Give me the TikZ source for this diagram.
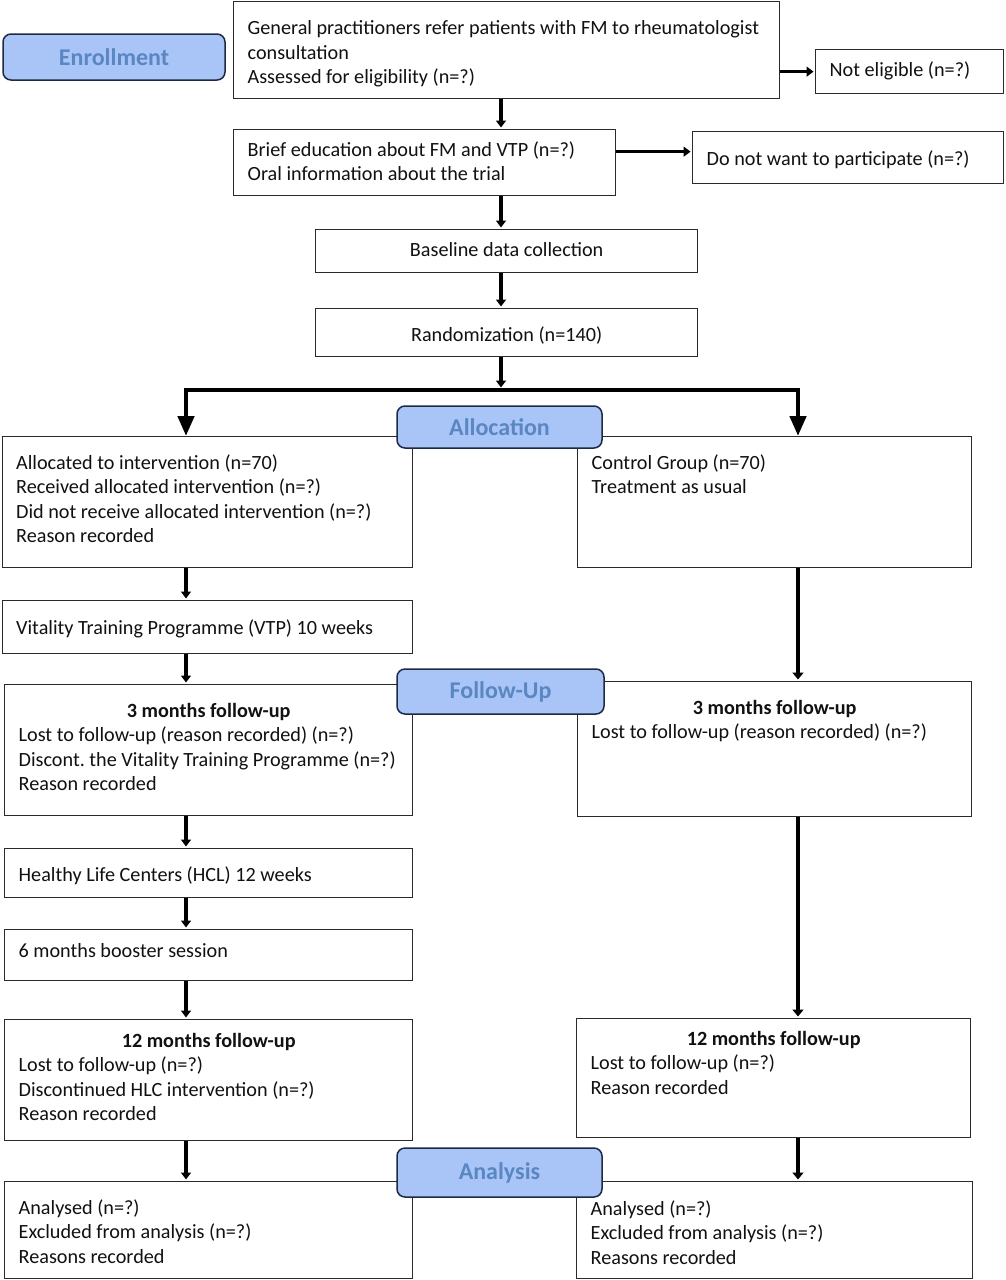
\documentclass[tikz,border=0pt]{standalone}
\usepackage{fontspec}
\setmainfont{Carlito}
\usetikzlibrary{arrows.meta,calc}
\frenchspacing
\definecolor{lblfill}{HTML}{A9C5F8}
\definecolor{lbltext}{HTML}{5A86C2}
\definecolor{lbldraw}{HTML}{1E2A44}
\definecolor{boxdraw}{HTML}{2B2B2B}
\definecolor{txt}{HTML}{111111}
% name, x1, y1, x2, y2, first-baseline offset, content
\newcommand\fbx[7]{%
\node[boxst] (#1) at (#2,#3) {\parbox[c][\dimexpr #5pt-#3pt\relax][t]{\dimexpr #4pt-#2pt\relax}{\vspace*{\dimexpr #6pt+2pt-\ht\strutbox\relax}\hspace*{14pt}\parbox[t]{\dimexpr #4pt-#2pt-28pt\relax}{\strut #7}}};}
\newcommand\ctr[1]{\makebox[\linewidth]{#1}}
\tikzset{
 boxst/.style={draw=boxdraw, line width=1.3pt, inner sep=0pt, anchor=north west, text=txt,
   font=\fontsize{20.2}{24.5}\selectfont\frenchspacing},
 lbl/.style={draw=lbldraw, fill=lblfill, line width=1.5pt, rounded corners=8pt, inner sep=0pt,
   text=lbltext, font=\fontsize{24}{28}\selectfont\bfseries},
 arr/.style={line width=3.5pt, -{Triangle[length=7pt,width=10pt]}, shorten >=1.5pt},
 longarr/.style={line width=4pt, -{Triangle[length=7pt,width=11pt]}, shorten >=1.5pt},
 bigarr/.style={line width=4.5pt, {Triangle[length=20pt,width=16pt]}-{Triangle[length=20pt,width=16pt]}, line join=miter},
}
\begin{document}
\begin{tikzpicture}[x=1pt,y=-1pt]
\useasboundingbox (0,0) rectangle (1005,1280);
\fill[white] (0,0) rectangle (1005,1280);

\fbx{box1}{233}{0.8}{779}{98}{31.5}{General practitioners refer patients with FM to rheumatologist\\consultation\\Assessed for eligibility (n=?)}
\fbx{notel}{815}{49}{1003}{93}{24.5}{Not eligible (n=?)}
\fbx{box2}{233}{129}{615}{195}{24.5}{Brief education about FM and VTP (n=?)\\Oral information about the trial}
\fbx{donot}{692}{131}{1003}{183}{31.5}{Do not want to participate (n=?)}
\fbx{base}{315}{229}{697}{272}{24.5}{\ctr{Baseline data collection}}
\fbx{rand}{315}{308}{697}{356}{30.5}{\ctr{Randomization (n=140)}}
\fbx{intv}{1.5}{436}{412}{567}{30.5}{Allocated to intervention (n=70)\\Received allocated intervention (n=?)\\Did not receive allocated intervention (n=?)\\Reason recorded}
\fbx{ctrl}{577}{436}{971}{567}{30.5}{Control Group (n=70)\\Treatment as usual}
\fbx{vtp}{1.5}{600}{412}{653}{31.5}{Vitality Training Programme (VTP) 10 weeks}
\fbx{futhi}{4}{684}{412}{815}{30.5}{\ctr{\textbf{3 months follow-up}}\\Lost to follow-up (reason recorded) (n=?)\\Discont. the Vitality Training Programme (n=?)\\Reason recorded}
\fbx{futhc}{577}{681}{971}{816}{30.5}{\ctr{\textbf{3 months follow-up}}\\Lost to follow-up (reason recorded) (n=?)}
\fbx{hcl}{4}{848}{412}{897}{30.5}{Healthy Life Centers (HCL) 12 weeks}
\fbx{boost}{4}{929}{412}{980}{25.5}{6 months booster session}
\fbx{futwi}{4}{1019}{412}{1140}{25.5}{\ctr{\textbf{12 months follow-up}}\\Lost to follow-up (n=?)\\Discontinued HLC intervention (n=?)\\Reason recorded}
\fbx{futwc}{576}{1018}{970}{1137}{24.5}{\ctr{\textbf{12 months follow-up}}\\Lost to follow-up (n=?)\\Reason recorded}
\fbx{ani}{4}{1181}{412}{1278}{30.5}{Analysed (n=?)\\Excluded from analysis (n=?)\\Reasons recorded}
\fbx{anc}{576}{1181}{972}{1278}{31.5}{Analysed (n=?)\\Excluded from analysis (n=?)\\Reasons recorded}

\coordinate (cc) at (501,0);
\coordinate (lc) at (186,0);
\coordinate (rc) at (798,0);
\coordinate (split) at (501,390);

\draw[arr] (box1.east |- notel.west) -- (notel.west);
\draw[arr, line width=3pt] ([yshift=6pt]box2.east |- donot.west) -- ([yshift=6pt]donot.west);
\draw[arr] (box1.south -| cc) -- (box2.north -| cc);
\draw[arr] (box2.south -| cc) -- (base.north -| cc);
\draw[arr] (base.south -| cc) -- (rand.north -| cc);
\draw[arr, shorten >=2.5pt] (rand.south -| cc) -- (split);
\draw[bigarr] (intv.north -| lc) |- (split) -| (ctrl.north -| rc);

\draw[arr] (intv.south -| lc) -- (vtp.north -| lc);
\draw[arr] (vtp.south -| lc) -- (futhi.north -| lc);
\draw[arr] (futhi.south -| lc) -- (hcl.north -| lc);
\draw[arr] (hcl.south -| lc) -- (boost.north -| lc);
\draw[arr] (boost.south -| lc) -- (futwi.north -| lc);
\draw[arr] (futwi.south -| lc) -- (ani.north -| lc);

\draw[longarr] (ctrl.south -| rc) -- (futhc.north -| rc);
\draw[longarr] (futhc.south -| rc) -- (futwc.north -| rc);
\draw[longarr] (futwc.south -| rc) -- (anc.north -| rc);

\node[lbl, minimum width=222pt, minimum height=46pt] (enr) at (114,57) {\raisebox{-1pt}{Enrollment}};
\node[lbl, minimum width=205pt, minimum height=42pt] (alloc) at (499.5,427) {\raisebox{-2.5pt}{Allocation}};
\node[lbl, minimum width=207pt, minimum height=45pt] (fup) at (500.5,691.5) {\raisebox{-2pt}{Follow-Up}};
\node[lbl, minimum width=205pt, minimum height=49pt] (anl) at (499.5,1172.5) {\raisebox{-1pt}{Analysis}};
\end{tikzpicture}
\end{document}
